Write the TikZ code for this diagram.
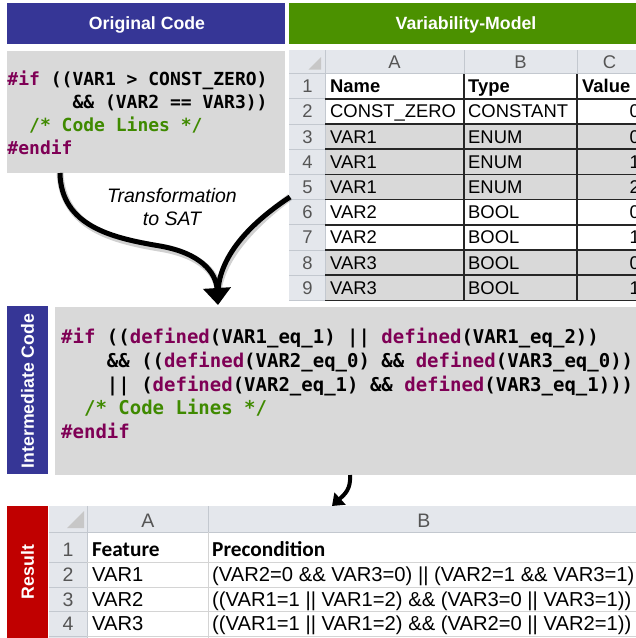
\documentclass[tikz,border=0pt]{standalone}
\usepackage{fontspec}
\setmainfont{Liberation Sans}
\newfontfamily\codefont{DejaVu Sans Mono}
\newfontfamily\calfont{Carlito}
\usetikzlibrary{arrows.meta}
\definecolor{hdrblue}{HTML}{363696}
\definecolor{hdrgreen}{HTML}{4B9100}
\definecolor{resred}{HTML}{C00000}
\definecolor{panel}{HTML}{D9D9D9}
\definecolor{kwc}{HTML}{7F0055}
\definecolor{cmtc}{HTML}{3F8A00}
\definecolor{xlhdr}{HTML}{E4E7EC}
\definecolor{xlline}{HTML}{C3C8CF}
\definecolor{xlnum}{HTML}{555555}
\definecolor{gridc}{HTML}{D4D4D4}
\newcommand{\kw}[1]{\textcolor{kwc}{#1}}
\newcommand{\cm}[1]{\textcolor{cmtc}{#1}}
\begin{document}
\begin{tikzpicture}[x=1pt,y=-1pt,
  hdr/.style={fill=#1, text=white, font=\bfseries\fontsize{17.7}{18}\selectfont, inner sep=0pt},
  panelbox/.style={fill=panel, inner sep=0pt, anchor=north west},
  code/.style={font=\codefont\bfseries\fontsize{18}{18}\selectfont, anchor=base west, inner sep=0pt},
  icode/.style={font=\codefont\bfseries\fontsize{19}{18}\selectfont, anchor=base west, inner sep=0pt},
  cell/.style={font=\fontsize{18.4}{18}\selectfont, anchor=base west, inner sep=0pt},
  cellr/.style={font=\fontsize{18.4}{18}\selectfont, anchor=base east, inner sep=0pt},
  rnum/.style={font=\fontsize{18.4}{18}\selectfont, text=xlnum, anchor=base, inner sep=0pt},
  rcell/.style={font=\fontsize{20.2}{18}\selectfont, anchor=base west, inner sep=0pt},
  rbold/.style={font=\calfont\bfseries\fontsize{21.3}{18}\selectfont, anchor=base west, inner sep=0pt},
  bigarrow/.style={line width=5pt, -{Triangle[width=27pt,length=17pt]}},
  smallarrow/.style={line width=4pt, -{Triangle[width=16pt,length=11pt]}},
  shadowline/.style={black, opacity=0.18, line width=7pt},
  darkline/.style={line width=1.6pt, black!85},
  lightline/.style={line width=0.8pt, xlline}
]
\useasboundingbox (0,0) rectangle (636,638);
\clip (0,0) rectangle (636,638);

% ---------- headers ----------
\node[hdr=hdrblue, minimum width=278pt, minimum height=41pt, anchor=north west] (hOrig) at (7,3) {};
\node[text=white, font=\bfseries\fontsize{17.7}{18}\selectfont, anchor=base] (tOrig) at (147,29) {Original Code};
\node[hdr=hdrgreen, minimum width=350pt, minimum height=41pt, anchor=north west] (hVar) at (289,3) {};
\node[text=white, font=\bfseries\fontsize{17.7}{18}\selectfont, anchor=base] (tVar) at (466,29) {Variability-Model};

% ---------- original code ----------
\node[panelbox, minimum width=278pt, minimum height=122pt] (orig) at (7,51) {};
\node[code] (o1) at (7.3,85) {\kw{\#if} ((VAR1 > CONST\_ZERO)};
\node[code] (o2) at (7.3,108.5) {\hphantom{xxxxxx}\&\& (VAR2 == VAR3))};
\node[code] (o3) at (7.3,131.5) {\hphantom{xx}\cm{/* Code Lines */}};
\node[code] (o4) at (7.3,154.5) {\kw{\#endif}};

% ---------- variability model sheet ----------
\fill[xlhdr] (289,50) rectangle (640,73.5);
\fill[xlhdr] (289,73.5) rectangle (325,301);
\fill[black!22] (321,57) -- (321,69.5) -- (308.5,69.5) -- cycle;
\foreach \r in {1,...,9}{
  \pgfmathsetmacro{\yt}{73.5+(\r-1)*25.2}
  \pgfmathsetmacro{\yb}{73.5+\r*25.2}
  \ifnum\r=3 \fill[panel] (325,\yt) rectangle (640,\yb);\fi
  \ifnum\r=4 \fill[panel] (325,\yt) rectangle (640,\yb);\fi
  \ifnum\r=5 \fill[panel] (325,\yt) rectangle (640,\yb);\fi
  \ifnum\r=8 \fill[panel] (325,\yt) rectangle (640,\yb);\fi
  \ifnum\r=9 \fill[panel] (325,\yt) rectangle (640,\yb);\fi
  \ifnum\r=1 \fill[white] (325,\yt) rectangle (640,\yb);\fi
  \ifnum\r=2 \fill[white] (325,\yt) rectangle (640,\yb);\fi
  \ifnum\r=6 \fill[white] (325,\yt) rectangle (640,\yb);\fi
  \ifnum\r=7 \fill[white] (325,\yt) rectangle (640,\yb);\fi
  \draw[lightline] (289,\yb) -- (325,\yb);
  \node[rnum] (rn\r) at (307.5,\yb-6) {\r};
}
\draw[lightline] (289,73.5) -- (640,73.5);
\draw[lightline] (325,50) -- (325,301);
\draw[lightline] (464,50) -- (464,73.5);
\draw[lightline] (577,50) -- (577,73.5);
\node[rnum] (cA) at (394.5,68) {A};
\node[rnum] (cB) at (520.5,68) {B};
\node[rnum] (cC) at (609.5,68) {C};
\foreach \r in {1,...,9}{
  \pgfmathsetmacro{\yb}{73.5+\r*25.2}
  \draw[darkline] (325,\yb) -- (640,\yb);
}
\draw[darkline] (464,73.5) -- (464,300);
\draw[darkline] (577,73.5) -- (577,300);
% row texts
\node[cell, font=\bfseries\fontsize{18.4}{18}\selectfont] (n1) at (330,92.7) {Name};
\node[cell, font=\bfseries\fontsize{18.4}{18}\selectfont] (t1) at (468,92.7) {Type};
\node[cell, font=\bfseries\fontsize{18.4}{18}\selectfont] (v1) at (582,92.7) {Value};
\foreach \r/\a/\b/\c in {2/CONST\_ZERO/CONSTANT/0, 3/VAR1/ENUM/0, 4/VAR1/ENUM/1, 5/VAR1/ENUM/2, 6/VAR2/BOOL/0, 7/VAR2/BOOL/1, 8/VAR3/BOOL/0, 9/VAR3/BOOL/1}{
  \pgfmathsetmacro{\yb}{73.5+\r*25.2-6}
  \node[cell] (na\r) at (330,\yb) {\a};
  \node[cell] (ty\r) at (468,\yb) {\b};
  \node[cellr] (va\r) at (640,\yb) {\c};
}
\coordinate (sheetL) at (290,197);

% ---------- arrows transformation ----------
\coordinate (origOut) at (60,173);
\coordinate (interIn) at (218,305);
\coordinate (merge) at (218,291);
\begin{scope}[shift={(2,2.5)}]
\draw[shadowline] (sheetL) .. controls (246,226) and (220,258) .. (merge);
\draw[shadowline] (origOut) .. controls (61,226) and (112,238) .. (160,246) .. controls (200,253) and (216,272) .. (merge);
\end{scope}
\draw[line width=5pt] (sheetL) .. controls (246,226) and (220,258) .. (merge);
\draw[bigarrow] (origOut) .. controls (61,226) and (112,238) .. (160,246) .. controls (200,253) and (216,272) .. (interIn);
\node[font=\itshape\fontsize{19.5}{23}\selectfont, align=center, inner sep=0pt] (lbl) at (172,207) {Transformation\\to SAT};

% ---------- intermediate code ----------
\node[hdr=hdrblue, minimum width=41pt, minimum height=168pt, anchor=north west] (hInt) at (7,306) {};
\node[text=white, font=\bfseries\fontsize{17.7}{18}\selectfont, rotate=90] (tInt) at (27.5,391) {Intermediate Code};
\node[panelbox, minimum width=585pt, minimum height=168pt] (inter) at (55,307) {};
\node[icode] (i1) at (61,343.5) {\kw{\#if} ((\kw{defined}(VAR1\_eq\_1) || \kw{defined}(VAR1\_eq\_2))};
\node[icode] (i2) at (61,367.3) {\hphantom{xxxx}\&\& ((\kw{defined}(VAR2\_eq\_0) \&\& \kw{defined}(VAR3\_eq\_0))};
\node[icode] (i3) at (61,391) {\hphantom{xxxx}|| (\kw{defined}(VAR2\_eq\_1) \&\& \kw{defined}(VAR3\_eq\_1)))};
\node[icode] (i4) at (61,414.7) {\hphantom{xx}\cm{/* Code Lines */}};
\node[icode] (i5) at (61,438.5) {\kw{\#endif}};

% ---------- small arrow ----------
\coordinate (interOut) at (350,475);
\coordinate (resIn) at (332,506);
\draw[smallarrow] (interOut) .. controls (351,489) and (345,494) .. (resIn);

% ---------- result ----------
\node[hdr=resred, minimum width=41pt, minimum height=140pt, anchor=north west] (hRes) at (7,506) {};
\node[text=white, font=\bfseries\fontsize{17.7}{18}\selectfont, rotate=90] (tRes) at (27.5,572) {Result};
\fill[xlhdr] (49,506) rectangle (640,532);
\fill[xlhdr] (49,532) rectangle (87,640);
\fill[white] (87,532) rectangle (640,640);
\fill[black!22] (84,511) -- (84,528) -- (67,528) -- cycle;
\draw[lightline] (49,532) -- (640,532);
\draw[lightline] (87,506) -- (87,640);
\draw[lightline] (208,506) -- (208,532);
\foreach \yy in {562,587,611,636}{
  \draw[lightline] (49,\yy) -- (87,\yy);
  \draw[gridc, line width=0.8pt] (87,\yy) -- (640,\yy);
}
\draw[gridc, line width=0.8pt] (208,532) -- (208,640);
\node[rnum, font=\fontsize{19.5}{18}\selectfont] (rA) at (148,527) {A};
\node[rnum, font=\fontsize{19.5}{18}\selectfont] (rB) at (424,527) {B};
\node[rnum, font=\fontsize{19.5}{18}\selectfont] (rr1) at (68,556) {1};
\node[rnum, font=\fontsize{19.5}{18}\selectfont] (rr2) at (68,581) {2};
\node[rnum, font=\fontsize{19.5}{18}\selectfont] (rr3) at (68,606) {3};
\node[rnum, font=\fontsize{19.5}{18}\selectfont] (rr4) at (68,630.5) {4};
\node[rbold] (f1) at (92,556) {Feature};
\node[rbold] (p1) at (212,556) {Precondition};
\node[rcell] (f2) at (92,581) {VAR1};
\node[rcell] (p2) at (212,581) {(VAR2=0 \&\& VAR3=0) || (VAR2=1 \&\& VAR3=1)};
\node[rcell] (f3) at (92,606) {VAR2};
\node[rcell] (p3) at (212,606) {((VAR1=1 || VAR1=2) \&\& (VAR3=0 || VAR3=1))};
\node[rcell] (f4) at (92,630.5) {VAR3};
\node[rcell] (p4) at (212,630.5) {((VAR1=1 || VAR1=2) \&\& (VAR2=0 || VAR2=1))};
\end{tikzpicture}
\end{document}
